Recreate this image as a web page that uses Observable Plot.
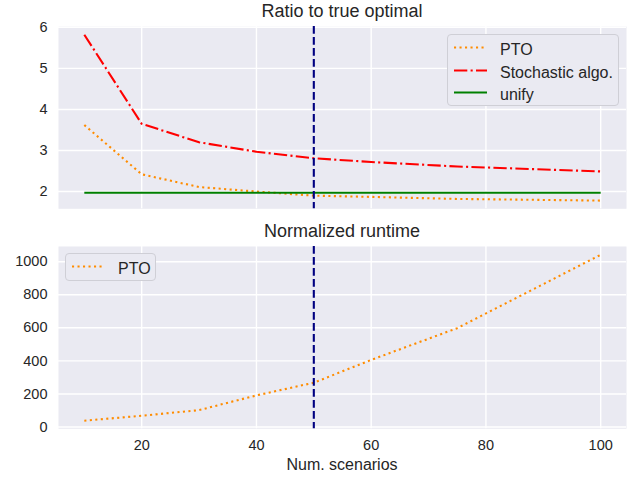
<!DOCTYPE html>
<html>
<head>
<meta charset="utf-8">
<script src="https://cdn.jsdelivr.net/npm/d3@7"></script>
<script src="https://cdn.jsdelivr.net/npm/@observablehq/plot@0.6"></script>
<style>
  html, body { margin: 0; padding: 0; background: #ffffff; }
  #wrap { position: relative; width: 643px; height: 477px; font-family: "Liberation Sans", Arial, sans-serif; color: #262626; }
  .panel { position: absolute; left: 0; }
  .panel text { font-size: 14.5px !important; font-family: "Liberation Sans", Arial, sans-serif; }
  .ttl { position: absolute; left: 58px; width: 568px; text-align: center; font-size: 18px; line-height: 18px; white-space: nowrap; }
  .xlab { position: absolute; left: 58px; width: 568px; text-align: center; font-size: 16px; line-height: 16px; }
  .legend { position: absolute; background: #eaeaf2; border: 1px solid #cfcfd6; border-radius: 4px; box-sizing: border-box; font-size: 16px; }
  .legend .row { position: absolute; left: 0; height: 22px; white-space: nowrap; }
  .legend svg { position: absolute; left: 6px; top: 0; }
  .legend span { position: absolute; left: 52px; top: 2px; line-height: 18px; }
</style>
</head>
<body>
<div id="wrap"></div>
<script>
// ---- data ----
const scenarios = [10, 20, 30, 40, 50, 60, 75, 100];
const ptoRatio   = [3.62, 2.42, 2.11, 2.0, 1.9, 1.87, 1.82, 1.78];
const stochRatio = [5.82, 3.65, 3.2, 2.97, 2.81, 2.72, 2.61, 2.49];
const unifyRatio = [1.97, 1.97, 1.97, 1.97, 1.97, 1.97, 1.97, 1.97];
const ptoRuntime = [38, 68, 102, 191, 268, 406, 598, 1042];
const markerX = [50];
const xTicks = [20, 40, 60, 80, 100];
const ratioTicks = [2, 3, 4, 5, 6];
const runtimeTicks = [0, 200, 400, 600, 800, 1000];
const seriesNames = ["PTO", "Stochastic algo.", "unify"];

// ---- styles ----
const colors = {PTO: "#ff8c00", "Stochastic algo.": "#ff0000", unify: "#008000"};
const dashes = {PTO: "2.1,3.4", "Stochastic algo.": "13.3,3.3,2.1,3.3", unify: null};
const LW = 2.1;

const ratioRows = [];
scenarios.forEach((x, i) => {
  ratioRows.push({x, y: ptoRatio[i], s: "PTO"});
  ratioRows.push({x, y: stochRatio[i], s: "Stochastic algo."});
  ratioRows.push({x, y: unifyRatio[i], s: "unify"});
});
const runtimeRows = scenarios.map((x, i) => ({x, y: ptoRuntime[i], s: "PTO"}));

const FONT = '"Liberation Sans", Arial, sans-serif';
const xDomain = [5.5, 104.5];

function lineMarks(rows) {
  return seriesNames.filter(n => rows.some(r => r.s === n)).map(n =>
    Plot.line(rows.filter(r => r.s === n), {
      x: "x", y: "y", stroke: colors[n], strokeWidth: LW,
      strokeDasharray: dashes[n] || undefined, strokeLinecap: "butt", strokeLinejoin: "round"
    })
  );
}

function panel({rows, yDomain, yTicks, height, marginBottom, showX}) {
  return Plot.plot({
    width: 643, height,
    marginLeft: 58, marginRight: 17, marginTop: 26, marginBottom,
    style: {fontFamily: FONT, fontSize: "14px", color: "#262626", background: "transparent", overflow: "visible"},
    x: {domain: xDomain, ticks: xTicks},
    y: {domain: yDomain, ticks: yTicks},
    marks: [
      Plot.frame({fill: "#eaeaf2", stroke: null}),
      Plot.gridX(xTicks, {stroke: "#ffffff", strokeOpacity: 1, strokeWidth: 1.4}),
      Plot.gridY(yTicks, {stroke: "#ffffff", strokeOpacity: 1, strokeWidth: 1.4}),
      Plot.axisY(yTicks, {tickSize: 0, tickPadding: 11, label: null, fill: "#262626", tickFormat: d => String(d)}),
      showX ? Plot.axisX(xTicks, {tickSize: 0, tickPadding: 11, label: null, fill: "#262626", tickFormat: d => String(d)})
            : Plot.axisX(xTicks, {tickSize: 0, tickFormat: () => "", label: null}),
      ...lineMarks(rows),
      Plot.ruleX(markerX, {stroke: "#000080", strokeWidth: LW, strokeDasharray: "7.7,3.3", strokeLinecap: "butt"})
    ]
  });
}

const wrap = document.getElementById("wrap");

const topPanel = panel({rows: ratioRows, yDomain: [1.58, 6.02], yTicks: ratioTicks, height: 220, marginBottom: 11.7, showX: false});
topPanel.classList.add("panel"); topPanel.style.top = "0px";
wrap.appendChild(topPanel);

const botPanel = panel({rows: runtimeRows, yDomain: [-11, 1092], yTicks: runtimeTicks, height: 257, marginBottom: 48.7, showX: true});
botPanel.classList.add("panel"); botPanel.style.top = "220px";
wrap.appendChild(botPanel);

function addDiv(cls, text, topPx) {
  const d = document.createElement("div");
  d.className = cls; d.textContent = text; d.style.top = topPx + "px";
  wrap.appendChild(d);
}
addDiv("ttl", "Ratio to true optimal", 2);
addDiv("ttl", "Normalized runtime", 222);
addDiv("xlab", "Num. scenarios", 457);

function legend(names, left, topPx, w, h) {
  const L = document.createElement("div");
  L.className = "legend";
  Object.assign(L.style, {left: left + "px", top: topPx + "px", width: w + "px", height: h + "px"});
  names.forEach((n, i) => {
    const r = document.createElement("div");
    r.className = "row";
    r.style.top = (4 + i * 22.6) + "px";
    r.style.width = w + "px";
    const svg = d3.create("svg").attr("width", 36).attr("height", 22);
    svg.append("line").attr("x1", 0).attr("x2", 33).attr("y1", 8.5).attr("y2", 8.5)
      .attr("stroke", colors[n]).attr("stroke-width", LW)
      .attr("stroke-dasharray", dashes[n] || null);
    r.appendChild(svg.node());
    const s = document.createElement("span");
    s.textContent = n;
    r.appendChild(s);
    L.appendChild(r);
  });
  wrap.appendChild(L);
}
legend(seriesNames, 447, 34, 172, 72);
legend(["PTO"], 65, 253, 91, 28);
</script>
</body>
</html>
